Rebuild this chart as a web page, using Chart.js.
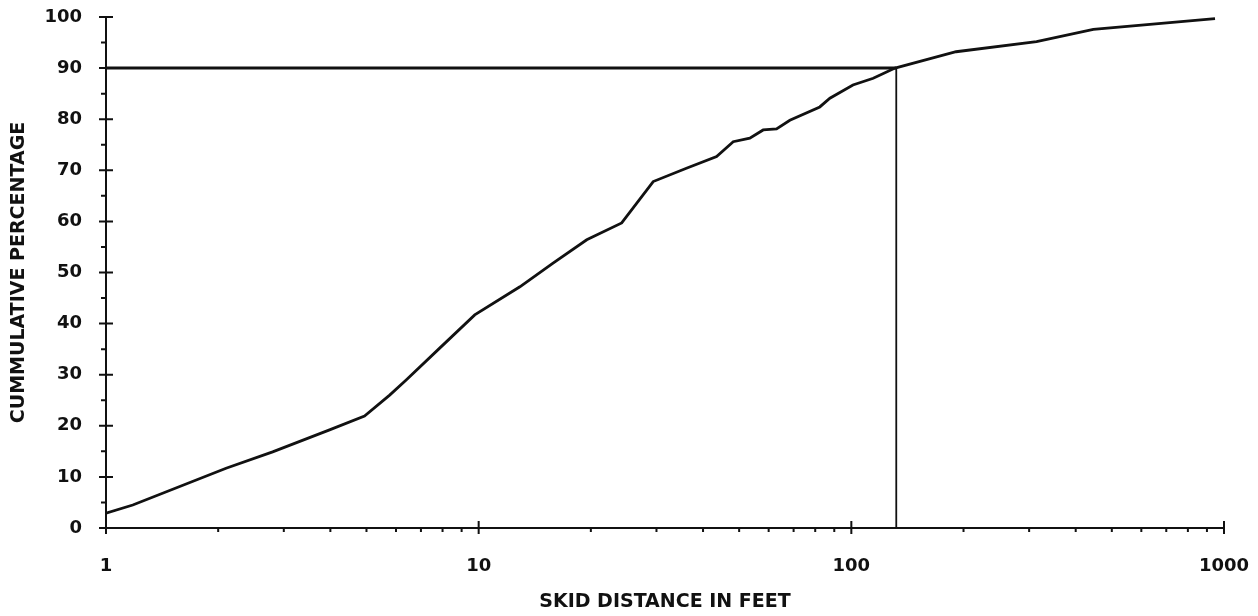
<!DOCTYPE html>
<html>
<head>
<meta charset="utf-8">
<script src="https://cdn.jsdelivr.net/npm/chart.js@4.4.1/dist/chart.umd.min.js"></script>
<style>
  html, body { margin: 0; padding: 0; background: #fff; }
  #wrap { width: 1258px; height: 616px; position: relative; }
</style>
</head>
<body>
<div id="wrap"><canvas id="c" width="1258" height="616"></canvas></div>
<script>
// ---- data ----
const skidDistance = [1, 1.18, 2.1, 2.8, 3.98, 4.94, 5.77, 6.4, 7.86, 9.76,
  12.9, 15.8, 19.5, 24.2, 29.4, 36.1, 43.5, 48.2, 53.4, 58,
  63, 68.4, 82.3, 87.6, 101, 114.5, 131, 191, 314, 446, 946];
const cumPercent = [2.9, 4.5, 11.7, 14.9, 19.2, 21.9, 26.0, 29.0, 35.2, 41.7,
  47.2, 51.8, 56.4, 59.7, 67.8, 70.4, 72.7, 75.6, 76.3, 77.9,
  78.1, 79.8, 82.4, 84.1, 86.7, 88.0, 90.0, 93.2, 95.2, 97.6, 99.7];
const refX = [1, 132, 132];
const refY = [90, 90, 0];
const xMajorTicks = [1, 10, 100, 1000];
const xMinorTicks = [2,3,4,5,6,7,8,9,20,30,40,50,60,70,80,90,200,300,400,500,600,700,800,900];
const yMajorTicks = [0,10,20,30,40,50,60,70,80,90,100];
const yMinorTicks = [5,15,25,35,45,55,65,75,85,95];
const xTitle = 'SKID DISTANCE IN FEET';
const yTitle = 'CUMMULATIVE PERCENTAGE';

const curve = skidDistance.map((x, i) => ({ x, y: cumPercent[i] }));
const refLine = refX.map((x, i) => ({ x, y: refY[i] }));

const INK = '#111';
const tickFont = { family: 'DejaVu Sans', weight: 'bold', size: 18 };

const tickMarks = {
  id: 'tickMarks',
  afterDraw(chart) {
    const ctx = chart.ctx;
    const xs = chart.scales.x, ys = chart.scales.y;
    const x0 = xs.left, y0 = ys.bottom;
    ctx.save();
    ctx.strokeStyle = INK;
    ctx.lineWidth = 2;
    ctx.beginPath();
    yMajorTicks.forEach(v => { const p = ys.getPixelForValue(v); ctx.moveTo(x0 - 7, p); ctx.lineTo(x0 + 7, p); });
    yMinorTicks.forEach(v => { const p = ys.getPixelForValue(v); ctx.moveTo(x0 - 5, p); ctx.lineTo(x0, p); });
    xMajorTicks.forEach(v => { const p = xs.getPixelForValue(v); ctx.moveTo(p, y0 - 7); ctx.lineTo(p, y0 + 6); });
    xMinorTicks.forEach(v => { const p = xs.getPixelForValue(v); ctx.moveTo(p, y0); ctx.lineTo(p, y0 + 4); });
    ctx.stroke();
    ctx.restore();
  }
};

function zeroPad(s) { s.paddingTop = 0; s.paddingBottom = 0; s.paddingLeft = 0; s.paddingRight = 0; }

new Chart(document.getElementById('c'), {
  type: 'scatter',
  data: {
    datasets: [
      { data: curve, showLine: true, borderColor: INK, borderWidth: 2.8, pointRadius: 0, tension: 0 },
      { data: refLine, showLine: true, borderColor: INK, borderWidth: 2.2, pointRadius: 0, tension: 0,
        segment: { borderWidth: c => c.p0DataIndex === 0 ? 3 : 1.8 } }
    ]
  },
  options: {
    responsive: false,
    animation: false,
    layout: { padding: { top: 17, right: 34, left: 0, bottom: 0 } },
    plugins: { legend: { display: false }, tooltip: { enabled: false } },
    scales: {
      x: {
        type: 'logarithmic', min: 1, max: 1000,
        afterBuildTicks: s => { s.ticks = xMajorTicks.map(v => ({ value: v })); },
        afterFit: s => { s.height = 88; zeroPad(s); },
        grid: { display: false, drawTicks: false },
        border: { display: true, color: INK, width: 2 },
        ticks: { color: INK, font: tickFont, padding: 28, maxRotation: 0, autoSkip: false,
          callback: v => String(v) },
        title: { display: true, text: xTitle, color: INK,
          font: { family: 'DejaVu Sans', weight: 'bold', size: 19 }, padding: { top: 0, bottom: 3 } }
      },
      y: {
        min: 0, max: 100,
        afterBuildTicks: s => { s.ticks = yMajorTicks.map(v => ({ value: v })); },
        afterFit: s => { s.width = 106; zeroPad(s); },
        grid: { display: false, drawTicks: false },
        border: { display: true, color: INK, width: 2 },
        ticks: { color: INK, font: tickFont, padding: 24, callback: v => String(v) },
        title: { display: true, text: yTitle, color: INK,
          font: { family: 'DejaVu Sans', weight: 'bold', size: 19 }, padding: { top: 8, bottom: 0 } }
      }
    }
  },
  plugins: [tickMarks]
});
</script>
</body>
</html>
